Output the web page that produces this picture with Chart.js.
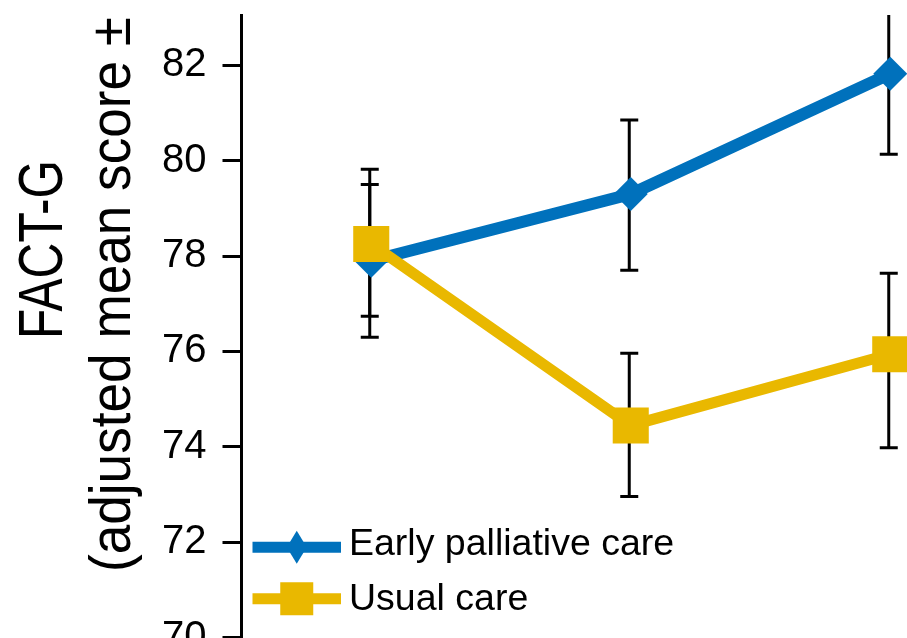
<!DOCTYPE html>
<html>
<head>
<meta charset="utf-8">
<title>FACT-G</title>
<script src="https://cdn.jsdelivr.net/npm/chart.js@4.4.1/dist/chart.umd.min.js"></script>
<style>
  html, body { margin: 0; padding: 0; background: #fff; overflow: hidden; }
  #wrap { position: relative; width: 907px; height: 638px; overflow: hidden; }
  #chart { position: absolute; left: 0; top: 0; }
</style>
</head>
<body>
<div id="wrap"><canvas id="chart" width="1030" height="700"></canvas></div>
<script>
// assessment time points
var weeks = ['Baseline', 'Week 12', 'Week 24'];

// early palliative care: adjusted means and error bar ends
var earlyMean = [77.9, 79.3, 81.82];
var earlyLow = [76.3, 77.7, 80.13];
var earlyHigh = [79.5, 80.85, 83.5];

// usual care
var usualMean = [78.25, 74.45, 75.94];
var usualLow = [76.74, 72.96, 73.98];
var usualHigh = [79.82, 75.96, 77.64];

var yTitle = ['FACT-G', '(adjusted mean score \u00b1'];

var BLUE = '#0071bc';
var GOLD = '#e9b800';
var FONT = '"Liberation Sans", Arial, Helvetica, sans-serif';

// vertical error bars, drawn under the lines and markers
var errorBars = {
  id: 'errorBars',
  beforeDatasetsDraw: function (chart) {
    var ctx = chart.ctx;
    var y = chart.scales.y;
    var area = chart.chartArea;
    ctx.save();
    ctx.beginPath();
    ctx.rect(area.left, area.top, area.right - area.left, area.bottom - area.top);
    ctx.clip();
    ctx.strokeStyle = '#000';
    ctx.lineWidth = 3;
    chart.data.datasets.forEach(function (ds, i) {
      var meta = chart.getDatasetMeta(i);
      meta.data.forEach(function (pt, j) {
        var top = y.getPixelForValue(ds.errHigh[j]);
        var bot = y.getPixelForValue(ds.errLow[j]);
        var x = pt.x - 1.5;
        ctx.beginPath();
        ctx.moveTo(x, top); ctx.lineTo(x, bot);
        ctx.moveTo(x - 9, top); ctx.lineTo(x + 9, top);
        ctx.moveTo(x - 9, bot); ctx.lineTo(x + 9, bot);
        ctx.stroke();
      });
    });
    ctx.restore();
  }
};

// two-line rotated y axis title; each line is fitted between its two ends
var axisTitle = {
  id: 'axisTitle',
  afterDraw: function (chart) {
    var ctx = chart.ctx;
    var lines = [
      { text: yTitle[0], size: 63, baseline: 62, from: 339, to: 160 },
      { text: yTitle[1], size: 58, baseline: 130, from: 572, to: 17 }
    ];
    lines.forEach(function (ln) {
      ctx.save();
      ctx.font = ln.size + 'px ' + FONT;
      var w = ctx.measureText(ln.text).width;
      ctx.translate(ln.baseline, ln.to);
      ctx.rotate(-Math.PI / 2);
      ctx.scale((ln.from - ln.to) / w, 1);
      ctx.fillStyle = '#000';
      ctx.textAlign = 'right';
      ctx.textBaseline = 'alphabetic';
      ctx.fillText(ln.text, 0, 0);
      ctx.restore();
    });
  }
};

// legend inside the plot: line sample with its marker, then the label
var sampleLegend = {
  id: 'sampleLegend',
  afterDraw: function (chart) {
    var ctx = chart.ctx;
    var area = chart.chartArea;
    var rows = [
      { lineY: area.bottom - 90.5, textY: area.bottom - 82.5, marker: 'diamond' },
      { lineY: area.bottom - 39, textY: area.bottom - 28.3, marker: 'square' }
    ];
    chart.data.datasets.forEach(function (ds, i) {
      var r = rows[i];
      var x0 = area.left + 11, x1 = area.left + 99.5, cx = (x0 + x1) / 2;
      ctx.save();
      ctx.strokeStyle = ds.borderColor;
      ctx.fillStyle = ds.borderColor;
      ctx.lineWidth = 11;
      ctx.beginPath();
      ctx.moveTo(x0, r.lineY);
      ctx.lineTo(x1, r.lineY);
      ctx.stroke();
      ctx.beginPath();
      if (r.marker === 'diamond') {
        ctx.moveTo(cx - 10, r.lineY);
        ctx.lineTo(cx, r.lineY - 16.5);
        ctx.lineTo(cx + 10, r.lineY);
        ctx.lineTo(cx, r.lineY + 16.5);
        ctx.closePath();
      } else {
        ctx.rect(cx - 16.5, r.lineY - 16.5, 33, 33);
      }
      ctx.fill();
      ctx.fillStyle = '#000';
      ctx.font = '37.5px ' + FONT;
      ctx.textAlign = 'left';
      ctx.textBaseline = 'alphabetic';
      ctx.fillText(ds.label, area.left + 107.5, r.textY);
      ctx.restore();
    });
  }
};

new Chart(document.getElementById('chart'), {
  type: 'line',
  data: {
    labels: weeks,
    datasets: [{
      label: 'Early palliative care',
      data: earlyMean,
      errLow: earlyLow,
      errHigh: earlyHigh,
      borderColor: BLUE,
      backgroundColor: BLUE,
      borderWidth: 12,
      pointStyle: 'rectRot',
      pointRadius: 17,
      pointBorderWidth: 0,
      pointBackgroundColor: BLUE,
      tension: 0,
      order: 1
    }, {
      label: 'Usual care',
      data: usualMean,
      errLow: usualLow,
      errHigh: usualHigh,
      borderColor: GOLD,
      backgroundColor: GOLD,
      borderWidth: 11,
      pointStyle: 'rect',
      pointRadius: 25.5,
      pointBorderWidth: 0,
      pointBackgroundColor: GOLD,
      tension: 0,
      order: 0
    }]
  },
  options: {
    responsive: false,
    animation: false,
    devicePixelRatio: 1,
    layout: {
      autoPadding: false,
      padding: { top: 15, right: 10, bottom: 62.2, left: 0 }
    },
    plugins: {
      legend: { display: false },
      tooltip: { enabled: false }
    },
    scales: {
      x: {
        display: false,
        offset: true
      },
      y: {
        min: 70,
        max: 83.05,
        afterFit: function (scale) {
          scale.width = 241.5;
          scale.paddingTop = 0;
          scale.paddingBottom = 0;
        },
        ticks: {
          stepSize: 2,
          includeBounds: false,
          padding: 16,
          color: '#000',
          font: { family: FONT, size: 40 }
        },
        grid: {
          drawOnChartArea: false,
          tickLength: 19,
          tickWidth: 3,
          tickColor: '#000'
        },
        border: { color: '#000', width: 3 }
      }
    }
  },
  plugins: [errorBars, axisTitle, sampleLegend]
});
</script>
</body>
</html>
